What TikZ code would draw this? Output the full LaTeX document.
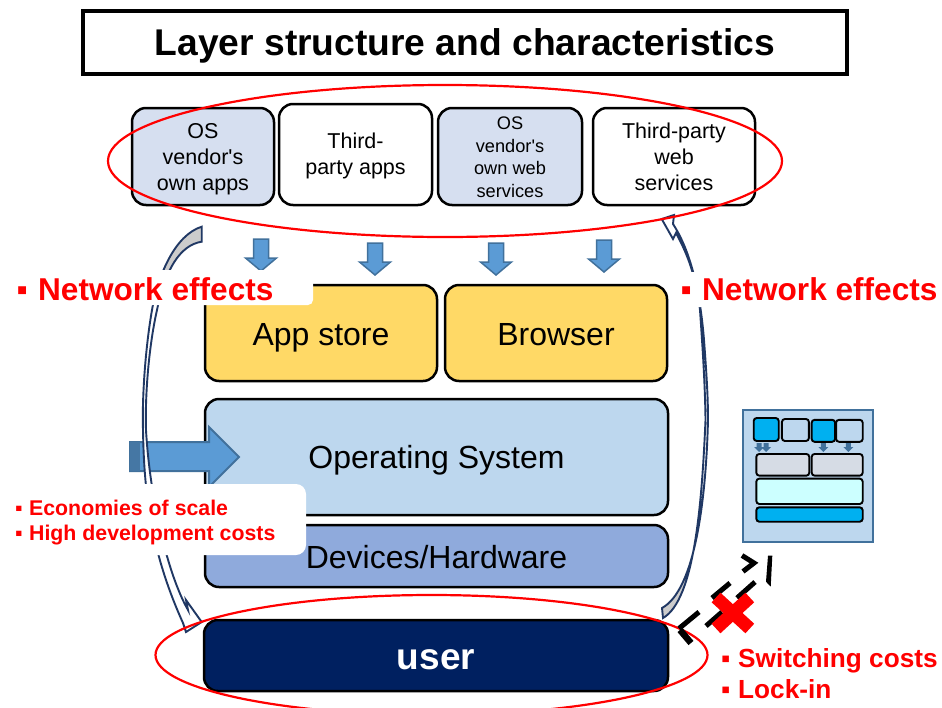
\documentclass[tikz,border=0pt]{standalone}
\usepackage{fontspec}
\setmainfont{Liberation Sans}
\definecolor{tierpale}{HTML}{D6DFF0}
\definecolor{tieryellow}{HTML}{FFD966}
\definecolor{tierblue}{HTML}{BDD7EE}
\definecolor{tiermid}{HTML}{8FAADC}
\definecolor{tiernavy}{HTML}{002060}
\definecolor{arrowblue}{HTML}{5B9BD5}
\definecolor{arrowedge}{HTML}{41719C}
\definecolor{curveedge}{HTML}{203864}
\definecolor{iconcyan}{HTML}{00B0F0}
\definecolor{iconpale}{HTML}{CCFFFF}
\definecolor{icongrey}{HTML}{D6DCE5}
\newcommand{\fsz}[2]{\fontsize{#1}{#2}\selectfont}
\newcommand{\leftcurve}{(201.7,226.7) .. controls (175,235) and (158,275) .. (152,310)
  .. controls (145,350) and (142,400) .. (143,430)
  .. controls (144,490) and (150,550) .. (183,623)
  -- (186,632) -- (201.7,622) -- (186,600) -- (188,610)
  .. controls (168,575) and (150,500) .. (146,430)
  .. controls (145,400) and (148,350) .. (157,310)
  .. controls (165,270) and (180,245) .. (201.7,241.7) -- cycle}
\newcommand{\rightcurve}{(661.7,219) -- (674,215) -- (673,224)
  .. controls (690,250) and (700,290) .. (704,340)
  .. controls (707,380) and (708,400) .. (708,420)
  .. controls (706,500) and (695,590) .. (662,608)
  -- (663,618)
  .. controls (695,600) and (702,500) .. (705.5,420)
  .. controls (705,380) and (702,340) .. (700,310)
  .. controls (695,270) and (685,250) .. (676,233)
  -- (673,239) -- cycle}
\tikzset{
  tier/.style={draw=black,line width=2.5pt,rounded corners=14pt,inner sep=0pt},
  tiertext/.style={align=center,text=black,inner sep=0pt},
  redring/.style={draw=red,line width=2.2pt},
  nobox/.style={fill=white,rounded corners=#1,draw=none},
  redtext/.style={text=red,font=\bfseries,anchor=base west,inner sep=0pt,align=left},
  curvearrow/.style={draw=curveedge,line width=1.9pt,line join=miter},
  icontier/.style={draw=black,line width=1.9pt,rounded corners=3pt,inner sep=0pt},
  breakline/.style={draw=black,line width=5pt},
  blockdown/.pic={\draw[fill=arrowblue,draw=arrowedge,line width=1.5pt,line join=miter]
     (-7.5,0) -- (7.5,0) -- (7.5,19) -- (15.5,19) -- (0,32) -- (-15.5,19) -- (-7.5,19) -- cycle;},
  tinydown/.pic={\path[fill=arrowedge]
     (-2.5,0) -- (2.5,0) -- (2.5,4) -- (5,4) -- (0,9) -- (-5,4) -- (-2.5,4) -- cycle;}
}
\begin{document}
\begin{tikzpicture}[x=1pt,y=-1pt]
\clip (0,0) rectangle (942,707);
\fill[white] (0,0) rectangle (942,707);

% title
\node[draw=black,line width=3.5pt,minimum width=764pt,minimum height=63pt,inner sep=0pt,
  label={[tiertext,yshift=-3pt,font=\bfseries\fsz{37.2}{40}]center:Layer structure and characteristics}] (title) at (465,42.5) {};

% apps row
\node[tier,fill=tierpale,minimum width=142pt,minimum height=97pt,
  label={[tiertext,yshift=-3pt,font=\fsz{21.5}{26}]center:{OS\\vendor\textquotesingle s\\own apps}}] (osapps) at (203,156.5) {};
\node[tier,fill=white,minimum width=153pt,minimum height=101pt,
  label={[tiertext,yshift=-1.5pt,font=\fsz{21.5}{26}]center:{Third-\\party apps}}] (tpapps) at (355.5,154.5) {};
\node[tier,fill=tierpale,minimum width=144pt,minimum height=97pt,
  label={[tiertext,yshift=-.5pt,font=\fsz{18.2}{22.5}]center:{OS\\vendor\textquotesingle s\\own web\\services}}] (osweb) at (510,156.5) {};
\node[tier,fill=white,minimum width=162pt,minimum height=97pt,
  label={[tiertext,font=\fsz{21.5}{26}]center:{Third-party\\web\\services}}] (tpweb) at (674,156.5) {};

% small down arrows
\pic at (261,239) {blockdown};
\pic at (375,243) {blockdown};
\pic at (496,243) {blockdown};
\pic at (604,240) {blockdown};

% layers
\node[tier,fill=tieryellow,minimum width=232pt,minimum height=96pt,
  label={[tiertext,yshift=-4.5pt,font=\fsz{32}{36}]center:App store}] (appstore) at (321,333) {};
\node[tier,fill=tieryellow,minimum width=222pt,minimum height=96pt,
  label={[tiertext,yshift=-2pt,font=\fsz{32}{36}]center:Browser}] (browser) at (556,333) {};
\node[tier,fill=tierblue,minimum width=463pt,minimum height=116pt,
  label={[tiertext,yshift=-3pt,font=\fsz{32}{36}]center:Operating System}] (os) at (436.5,457) {};
\node[tier,fill=tiermid,minimum width=463pt,minimum height=62pt,
  label={[tiertext,yshift=-1pt,font=\fsz{32}{36}]center:Devices/Hardware}] (devices) at (436.5,556) {};
\node[tier,fill=tiernavy,minimum width=464pt,minimum height=71pt,
  label={[tiertext,yshift=-4pt,text=white,font=\bfseries\fsz{37}{40}]center:user}] (user) at (436,655.5) {};

% big arrow into the OS
\draw[fill=arrowblue,draw=arrowedge,line width=2pt,line join=miter] (130,442) -- (209,442) -- (209,427) -- (239,457) -- (209,487) -- (209,471) -- (130,471) -- cycle;
\fill[arrowedge!85!arrowblue] (130,442) rectangle (140,471);

% curved arrows
\fill[white] \leftcurve;
\begin{scope}
  \clip \leftcurve;
  \fill[gray!40] (130,220) rectangle (210,285);
\end{scope}
\draw[curvearrow] \leftcurve;
\fill[white] \rightcurve;
\begin{scope}
  \clip \rightcurve;
  \fill[gray!40] (655,555) rectangle (715,625);
\end{scope}
\draw[curvearrow] \rightcurve;

% white label backings
\path[nobox=5pt] (-10,270) rectangle (313,305);
\path[nobox=5pt] (678,272) rectangle (952,307);
\path[nobox=10pt] (-12,484) rectangle (306,555);

% red rings
\draw[redring] (445,161) ellipse [x radius=337,y radius=76];
\draw[redring] (431.5,655) ellipse [x radius=276,y radius=60];

% red labels
\node[redtext,font=\bfseries\fsz{31.6}{36}] (netl) at (13,300) {\makebox[25pt][l]{\hspace{3.5pt}▪}Network effects};
\node[redtext,font=\bfseries\fsz{31.6}{36}] (netr) at (677,300) {\makebox[25pt][l]{\hspace{3.5pt}▪}Network effects};
\node[redtext,font=\bfseries\fsz{21.3}{25}] (econ) at (13,515) {\makebox[16pt][l]{\hspace{2pt}▪}Economies of scale};
\node[redtext,font=\bfseries\fsz{21.3}{25}] (devc) at (13,540) {\makebox[16pt][l]{\hspace{2pt}▪}High development costs};
\node[redtext,font=\bfseries\fsz{26.2}{30}] (swc) at (719,667) {\makebox[19pt][l]{\hspace{2pt}▪}Switching costs};
\node[redtext,font=\bfseries\fsz{26.2}{30}] (lock) at (719,698) {\makebox[19pt][l]{\hspace{2pt}▪}Lock-in};

% icon
\node[draw=arrowedge,fill=tierblue,line width=2.4pt,minimum width=130pt,minimum height=132pt,inner sep=0pt] (icon) at (808,476) {};
\node[icontier,fill=iconcyan,minimum width=25pt,minimum height=23pt] (i1) at (766.2,429.5) {};
\node[icontier,fill=tierblue,minimum width=27pt,minimum height=22pt] (i2) at (795.4,430) {};
\node[icontier,fill=iconcyan,minimum width=23.5pt,minimum height=22pt] (i3) at (823.4,430.8) {};
\node[icontier,fill=tierblue,minimum width=26.7pt,minimum height=22pt] (i4) at (849.4,430.8) {};
\pic at (759,443) {tinydown};
\pic at (766,443) {tinydown};
\pic at (823.3,443) {tinydown};
\pic at (848.3,443) {tinydown};
\node[icontier,fill=icongrey,minimum width=53pt,minimum height=21.7pt] (i5) at (782.8,464.8) {};
\node[icontier,fill=icongrey,minimum width=51pt,minimum height=21.7pt] (i6) at (837.2,464.8) {};
\node[icontier,fill=iconpale,minimum width=106.4pt,minimum height=25.3pt] (i7) at (809.5,491.3) {};
\node[icontier,fill=iconcyan,minimum width=106.4pt,minimum height=14.4pt] (i8) at (809.5,514.5) {};

% broken double arrow between user and icon
\draw[breakline,line join=miter] (699,612) -- (679,628.5);
\draw[black,line width=6.5pt] (680,630) -- (691,643);
\draw[breakline] (706,626) -- (722,612);
\draw[breakline] (737,598) -- (755,582);
\draw[breakline] (712,598) -- (730,583);
\draw[breakline,line join=miter] (742,555.5) -- (754,563) -- (743,571.5);
\fill[black] (768,555.7) -- (772.3,555.7) -- (770.7,586.7) -- (766,581.7) -- cycle;

% red cross
\draw[red,line width=13pt] (716,597.5) -- (749.8,628.5);
\draw[red,line width=13pt] (749.8,597.5) -- (716,628.5);
\end{tikzpicture}
\end{document}
